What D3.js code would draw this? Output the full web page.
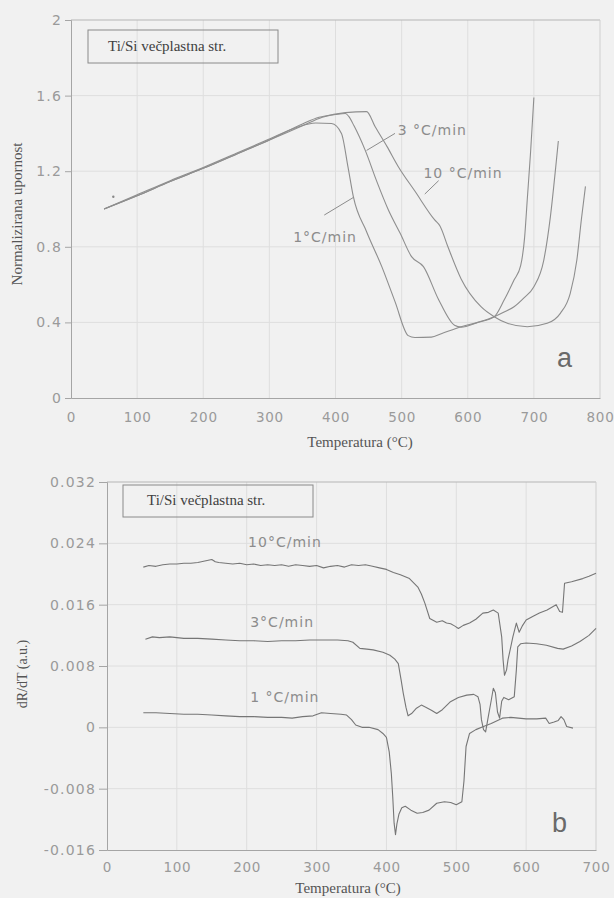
<!DOCTYPE html>
<html><head><meta charset="utf-8">
<script src="https://cdn.jsdelivr.net/npm/d3@7"></script>
<style>body{margin:0;background:#f1f1f1}</style>
</head><body>
<svg id="chart" width="614" height="898"></svg>
<script>
// ---------- Panel a: normalised resistance ----------
const xTicksA = [0,100,200,300,400,500,600,700,800];
const yTicksA = [0,0.4,0.8,1.2,1.6,2];

const tempA1 = [50,100,150,200,250,300,340,370,394,409,419,427,447,470,490,510,520,545,560,590,615,640,655,670,680,686,690,695,700];
const resA1  = [1.00,1.075,1.15,1.22,1.295,1.37,1.43,1.455,1.452,1.40,1.22,1.065,0.88,0.695,0.51,0.33,0.32,0.322,0.34,0.377,0.40,0.43,0.518,0.624,0.70,0.85,1.05,1.30,1.59];

const tempA3 = [50,100,150,200,250,300,350,375,400,415,420,428,445,462,480,498,515,533,556,580,590,615,640,655,670,685,700,715,725,733,737];
const resA3  = [1.00,1.07,1.145,1.215,1.29,1.365,1.45,1.485,1.50,1.505,1.49,1.44,1.31,1.15,0.995,0.87,0.748,0.695,0.52,0.385,0.375,0.40,0.43,0.455,0.483,0.53,0.589,0.73,0.96,1.22,1.36];

const tempA10 = [50,100,150,200,250,300,350,380,415,447,460,478,495,520,550,558,570,590,620,640,660,690,720,740,755,765,772,778];
const resA10  = [1.00,1.07,1.145,1.215,1.29,1.365,1.44,1.485,1.51,1.515,1.435,1.33,1.224,1.095,0.942,0.91,0.80,0.63,0.483,0.43,0.395,0.377,0.395,0.448,0.554,0.73,0.95,1.12];

const markTA = [64];
const markVA = [1.065];

// ---------- Panel b: dR/dT ----------
const xTicksB = [0,100,200,300,400,500,600,700];
const yTicksB = [-0.016,-0.008,0,0.008,0.016,0.024,0.032];

const tempB10 = [52,60,70,80,90,100,110,120,130,140,150,155,160,170,180,190,200,210,220,230,240,250,260,270,280,290,300,310,320,330,340,350,360,370,380,390,400,410,420,433,445,450,455,462,468,472,480,486,492,498,503,510,519,528,538,546,553,560,565,567,569,572,574,578,581,586,590,595,600,610,619,630,643,648,652,655,665,681,690,700];
const dB10 = [0.0209,0.0211,0.0210,0.0212,0.0213,0.0213,0.0214,0.0214,0.0215,0.0217,0.0219,0.0216,0.0215,0.0214,0.0213,0.0214,0.0212,0.0213,0.0211,0.0212,0.0211,0.0212,0.0210,0.0212,0.0211,0.0210,0.0211,0.0208,0.0210,0.0211,0.0209,0.0212,0.0211,0.0212,0.0210,0.0208,0.0206,0.0202,0.0199,0.0194,0.0183,0.0174,0.0162,0.0142,0.0139,0.0137,0.0139,0.0136,0.0135,0.0132,0.0129,0.0133,0.0136,0.0141,0.0149,0.0150,0.0153,0.0149,0.0118,0.0088,0.0068,0.0075,0.0088,0.0105,0.0118,0.0136,0.0124,0.0133,0.0140,0.0145,0.0149,0.0153,0.0160,0.0151,0.0150,0.0188,0.0190,0.0194,0.0197,0.0201];

const tempB3 = [55,65,75,90,110,130,150,170,190,210,230,250,270,290,310,330,345,352,362,372,381,395,405,412,417,421,424,428,431,436,443,450,457,465,472,480,491,503,515,525,531,534,536,539,542,546,550,553,556,559,562,565,568,575,583,586,588,592,600,615,629,645,653,665,677,690,700];
const dB3 = [0.0115,0.0118,0.0117,0.0118,0.0116,0.0116,0.0115,0.0114,0.0113,0.0113,0.0112,0.0113,0.0113,0.0114,0.0114,0.0114,0.0113,0.0111,0.0103,0.0102,0.0101,0.0098,0.0094,0.0089,0.0083,0.0062,0.0045,0.0026,0.0015,0.0018,0.0025,0.0029,0.0026,0.0022,0.0018,0.0023,0.0033,0.0039,0.0042,0.0043,0.0040,0.0030,0.0010,-0.0003,-0.0006,0.0015,0.0035,0.0051,0.0045,0.0020,0.0012,0.0034,0.0039,0.0036,0.0040,0.0075,0.0105,0.0109,0.0110,0.0109,0.0107,0.0103,0.0102,0.0106,0.0112,0.0120,0.0129];

const tempB1 = [52,70,90,110,130,150,170,190,210,230,250,265,280,295,307,320,335,343,350,356,365,375,388,395,400,404,407,409,411,413,415,418,422,427,435,444,452,461,472,483,492,500,508,511,514,519,528,539,550,566,578,600,615,628,633,640,646,650,654,658,667];
const dB1 = [0.0019,0.0019,0.0018,0.0017,0.0017,0.0016,0.0015,0.0014,0.0014,0.0013,0.0013,0.0012,0.0014,0.0015,0.0019,0.0018,0.0017,0.0016,0.0010,0.0003,0.0000,0.0000,-0.0003,-0.0008,-0.0013,-0.0032,-0.0060,-0.0090,-0.0125,-0.0140,-0.0126,-0.0113,-0.0105,-0.0103,-0.0108,-0.0112,-0.0111,-0.0108,-0.0099,-0.0097,-0.0098,-0.0101,-0.0097,-0.0070,-0.0025,-0.0008,-0.0003,0.0001,0.0005,0.0012,0.0013,0.0011,0.0011,0.0012,0.0005,0.0007,0.0009,0.0014,0.0010,0.0001,-0.0001];

const legendText = "Ti/Si večplastna str.";

// ---------- drawing ----------
const BG = "#f1f1f1";
const svg = d3.select("#chart");
svg.append("rect").attr("width",614).attr("height",898).attr("fill",BG);

const zip = (a,b) => a.map((v,i)=>[v,b[i]]);

function panel(o){
  const g = svg.append("g");
  const x = o.x, y = o.y;
  const [x0,x1] = x.range(), [y0,y1] = y.range();
  // grid
  g.append("g").selectAll("line").data(o.xTicks.slice(1,-1)).join("line")
    .attr("x1",d=>x(d)).attr("x2",d=>x(d)).attr("y1",y0).attr("y2",y1)
    .attr("stroke","#dedede").attr("stroke-width",1);
  g.append("g").selectAll("line").data(o.yTicks.slice(1,-1)).join("line")
    .attr("x1",x0).attr("x2",x1).attr("y1",d=>y(d)).attr("y2",d=>y(d))
    .attr("stroke","#dedede").attr("stroke-width",1);
  // frame top/right
  g.append("line").attr("x1",x0).attr("x2",x1).attr("y1",y1).attr("y2",y1).attr("stroke","#b5b5b5");
  g.append("line").attr("x1",x1).attr("x2",x1).attr("y1",y0).attr("y2",y1).attr("stroke","#cfcfcf");
  // axes
  const ya = g.append("g").attr("transform",`translate(${x0},0)`)
    .call(d3.axisLeft(y).tickValues(o.yTicks).tickSize(o.tickLen).tickPadding(3).tickFormat(o.yFmt));
  const xa = g.append("g").attr("transform",`translate(0,${y0})`)
    .call(d3.axisBottom(x).tickValues(o.xTicks).tickSize(0).tickPadding(o.xPad).tickFormat(d3.format("d")));
  [ya,xa].forEach(a=>{
    a.select(".domain").attr("stroke","#a5a5a5");
    a.selectAll(".tick line").attr("stroke","#a5a5a5");
    a.selectAll("text").attr("fill","#9a9a9a").style("font-family","DejaVu Sans");
  });
  ya.selectAll("text").style("font-size","14px").style("letter-spacing","1.2px");
  xa.selectAll("text").style("font-size","13.5px").style("letter-spacing","0.7px");
  // legend box
  g.append("rect").attr("x",o.leg[0]).attr("y",o.leg[1]).attr("width",o.leg[2]).attr("height",o.leg[3])
    .attr("fill","none").attr("stroke","#8a8a8a").attr("stroke-width",1);
  g.append("text").attr("x",o.leg[0]+o.leg[4]).attr("y",o.leg[1]+o.leg[5]).text(legendText)
    .attr("fill","#404040").style("font-family","Liberation Serif").style("font-size","15px");
  // axis titles
  g.append("text").attr("x",o.xt[0]).attr("y",o.xt[1]).attr("text-anchor","middle").text("Temperatura (°C)")
    .attr("fill","#555").style("font-family","Liberation Serif").style("font-size","15px");
  g.append("text").attr("transform",`translate(${o.yt[0]},${o.yt[1]}) rotate(-90)`).attr("text-anchor","middle")
    .text(o.yTitle).attr("fill","#555").style("font-family","Liberation Serif").style("font-size",o.ytSize);
  // series
  const line = d3.line().x(d=>x(d[0])).y(d=>y(d[1])).curve(o.curve);
  o.series.forEach(s=>{
    g.append("path").attr("d",line(s)).attr("fill","none").attr("stroke",o.lineColor)
      .attr("stroke-width",o.lineW).attr("stroke-linejoin","round");
  });
  // curve labels
  o.labels.forEach(l=>{
    g.append("text").attr("x",x(l[1])).attr("y",y(l[2])).text(l[0])
      .attr("fill","#8c8c8c").style("font-family","DejaVu Sans").style("font-size","14px").style("letter-spacing","1px");
  });
  (o.leaders||[]).forEach(l=>{
    g.append("line").attr("x1",x(l[0])).attr("y1",y(l[1])).attr("x2",x(l[2])).attr("y2",y(l[3]))
      .attr("stroke","#8c8c8c").attr("stroke-width",1);
  });
  g.append("text").attr("x",x(o.letter[1])).attr("y",y(o.letter[2])).text(o.letter[0])
    .attr("fill","#6a6a6a").style("font-family","Liberation Sans").style("font-size","27px");
  return g;
}

const xA = d3.scaleLinear().domain([0,800]).range([71,600]);
const yA = d3.scaleLinear().domain([0,2]).range([398,20]);
const gA = panel({
  x:xA, y:yA, xTicks:xTicksA, yTicks:yTicksA, tickLen:6, xPad:14,
  yFmt:d=> (d===0||d===2)? String(d) : d.toFixed(1),
  leg:[88,30,190,33,20,21], xt:[360,447], yt:[22,214], yTitle:"Normalizirana upornost", ytSize:"15px",
  series:[zip(tempA1,resA1),zip(tempA3,resA3),zip(tempA10,resA10)],
  curve:d3.curveMonotoneX, lineColor:"#8e8e8e", lineW:1.1,
  labels:[["3 °C/min",494,1.39],["10 °C/min",533,1.164],["1°C/min",336,0.825]],
  leaders:[[490,1.40,447,1.31],[556,1.15,535,1.079],[428,1.063,383,0.968]],
  letter:["a",735,0.164]
});
gA.selectAll(".mk").data(zip(markTA,markVA)).join("circle").attr("class","mk")
  .attr("cx",d=>xA(d[0])).attr("cy",d=>yA(d[1])).attr("r",1.2).attr("fill","#888");

const xB = d3.scaleLinear().domain([0,700]).range([107,596]);
const yB = d3.scaleLinear().domain([-0.016,0.032]).range([850,482]);
panel({
  x:xB, y:yB, xTicks:xTicksB, yTicks:yTicksB, tickLen:8, xPad:12,
  yFmt:d=> d===0? "0" : d.toFixed(3),
  leg:[123,485,190,32,24,20], xt:[348,893], yt:[27,674], yTitle:"dR/dT (a.u.)", ytSize:"14px",
  series:[zip(tempB10,dB10),zip(tempB3,dB3),zip(tempB1,dB1)],
  curve:d3.curveLinear, lineColor:"#767676", lineW:1.1,
  labels:[["10°C/min",202,0.0235],["3°C/min",205,0.0131],["1 °C/min",205,0.00335]],
  leaders:[],
  letter:["b",637,-0.01365]
});
</script>
</body></html>
